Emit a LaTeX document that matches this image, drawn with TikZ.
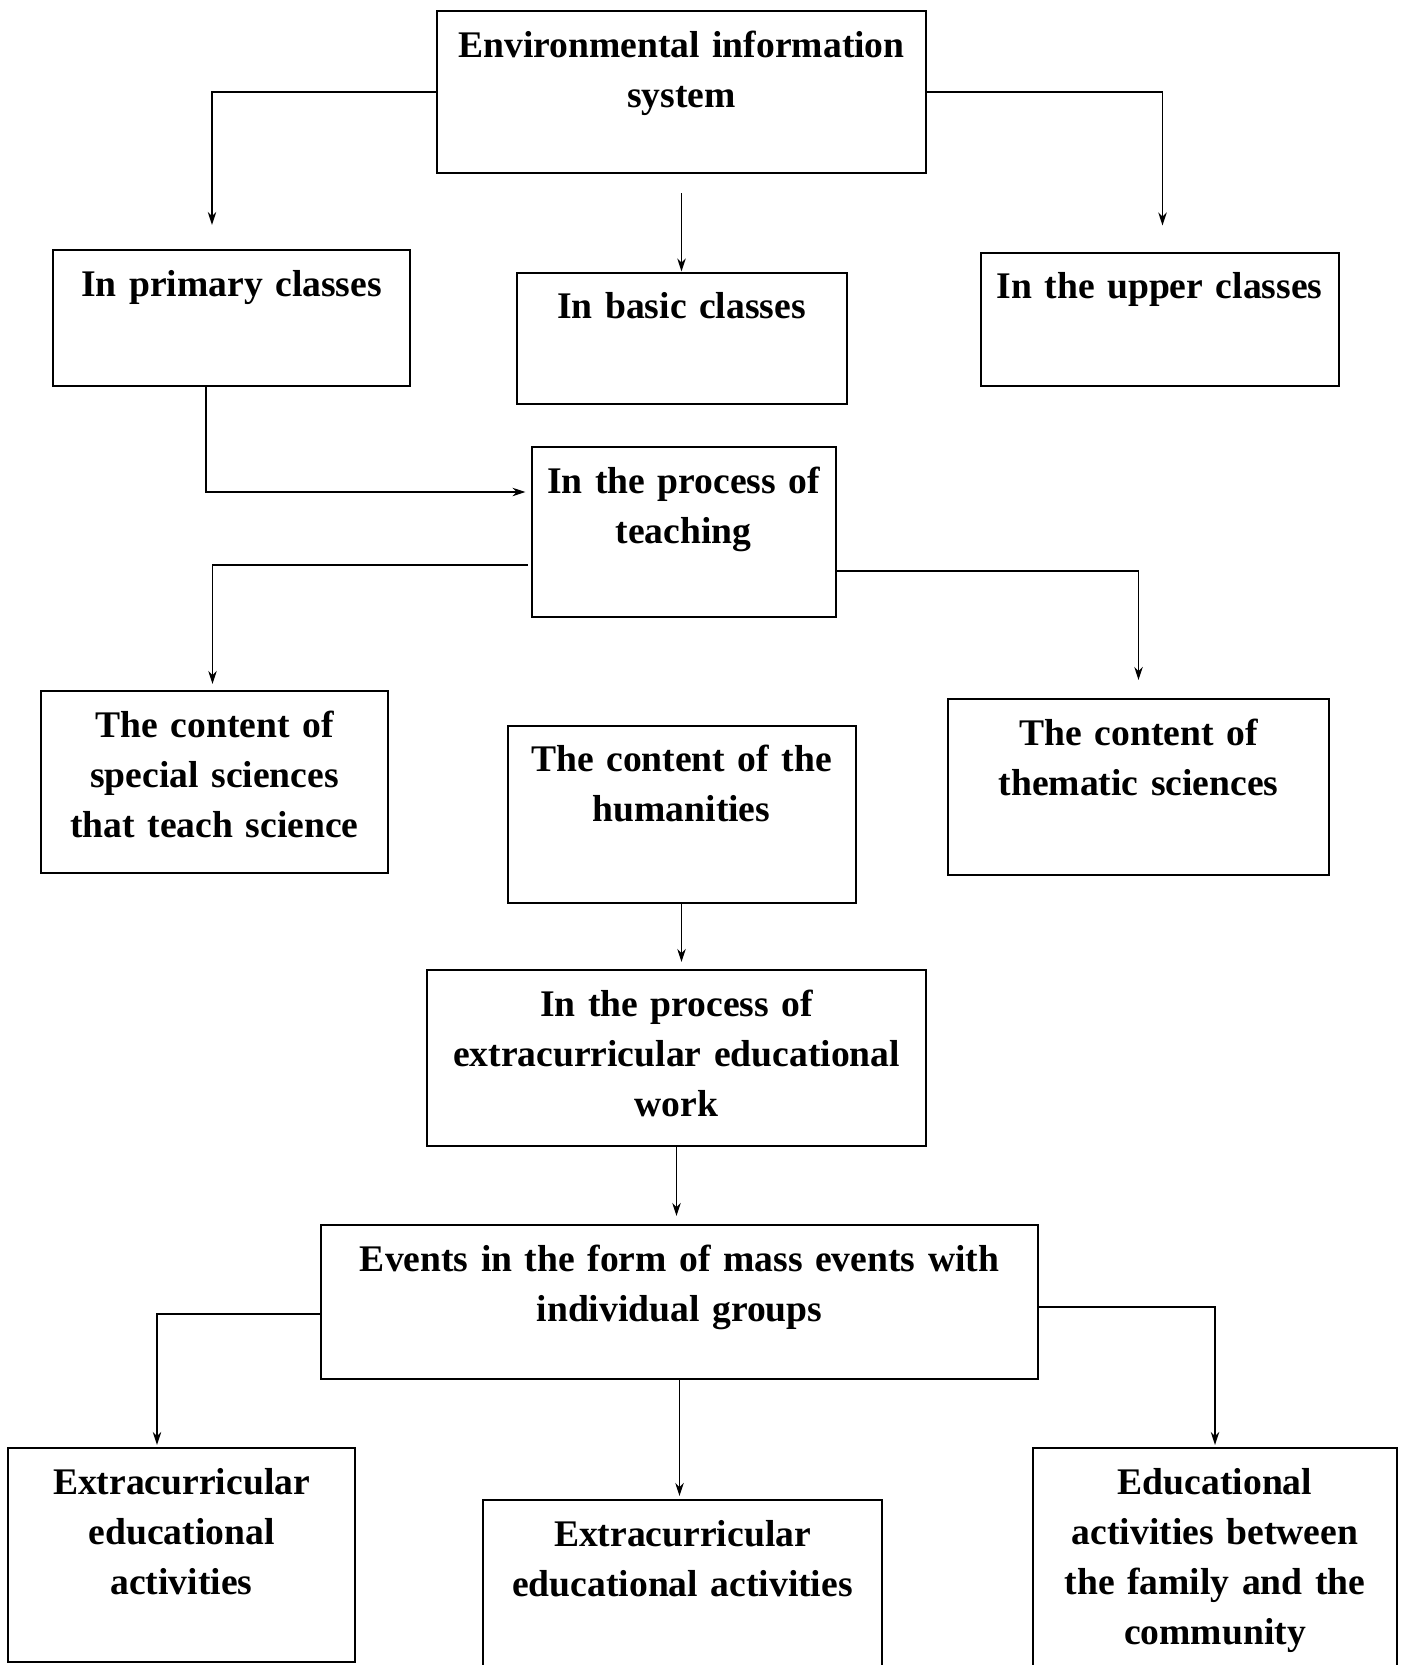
\documentclass[tikz,border=0pt]{standalone}
\usepackage{fontspec}
\setmainfont{Liberation Serif}[WordSpace=0.7]
\usepackage{tikz}
\usetikzlibrary{positioning, calc, arrows.meta}
\tikzstyle{box} = [rectangle, draw=black, line width=1pt, inner sep=0pt, text height=23pt, align=center, font=\fontsize{18.8}{25}\selectfont\bfseries]
\tikzstyle{arrow} = [line width=0.85pt,->,>={Stealth[length=6.5pt,width=4.2pt]}]

\begin{document}
\begin{tikzpicture}[node distance=122pt,]
		\useasboundingbox (0,0) rectangle (701.5pt,-832.5pt);
		\node (start) [box, text width=244.5pt, text depth=58pt] at (340.75pt,-46pt) {Environmental information\\ system};
		\node (cls2) [box, below of=start, yshift=-1pt, text width=165pt, text depth=42.5pt] {In basic classes};
		\node (cls1) [box, left of=cls2, xshift=-103pt, yshift=10pt, text width=178.5pt, text depth=45pt] {In primary classes};
		\node (cls3) [box, right of=cls2, xshift=117pt, yshift=9.5pt, text width=179pt, text depth=43.5pt] {In the upper classes};
		
		\node (teach) [box, below of=cls2, yshift=25pt, xshift=1pt, text width=152pt, text depth=62pt] {In the process of\\ teaching};
		
		\node (sci2) [box, below of=teach, yshift=-19pt, xshift=-1pt, text width=174pt, text depth=65.5pt] {The content of the\\ humanities};
		\node (sci1) [box, left of=sci2, xshift=-111.5pt, yshift=16pt, text width=173.5pt, text depth=68pt] {The content of\\ special sciences\\ that teach science};
		\node (sci3) [box, right of=sci2, xshift=106.5pt, yshift=13.5pt, text width=190.5pt, text depth=65pt] {The content of\\ thematic sciences};
		
		\node (extra) [box, below of=sci2, xshift=-2.5pt, text width=249.5pt, text depth=65pt] {In the process of\\ extracurricular educational\\ work};
		\node (events) [box, below of=extra, xshift=1.5pt, text width=358.5pt, text depth=54pt] {Events in the form of mass events with\\ individual groups};
		
		\node (act2) [box, below of=events, yshift=-19pt, xshift=1.5pt, text width=199.5pt, text depth=61pt] {Extracurricular\\ educational activities};
		\node (act1) [box, left of=act2, xshift=-128.5pt, yshift=14.5pt, text width=173.5pt, text depth=84pt] {Extracurricular\\ educational\\ activities};
		\node (act3) [box, right of=act2, xshift=144.25pt, yshift=13pt, text width=182pt, text depth=87pt] {Educational\\ activities between\\ the family and the\\ community};
		
		%连接具体形状
		\draw [arrow](start.west) -| ($(cls1.north)+(-9.75pt,12pt)$);
		\draw [arrow](start.east) -| ($(cls3.north)+(1.5pt,13pt)$);
		\draw [arrow]($(start.south)+(0,-9.5pt)$) -- (start.south |- cls2.north);
		\draw [arrow]($(cls1.south)+(-12.75pt,0)$) |- ($(teach.west)+(-2.5pt,20pt)$);
		\draw [arrow]($(teach.west)+(-1.5pt,-16.5pt)$) -| ($(sci1.north)+(-1pt,3pt)$);
		\draw [arrow]($(teach.east)+(0,-19.5pt)$) -| ($(sci3.north)+(0,9pt)$);
		\draw [arrow](sci2.south) -- ($(sci2.south |- extra.north)+(0,3.5pt)$);
		\draw [arrow](extra.south) -- ($(extra.south |- events.north)+(0,4pt)$);
		\draw [arrow]($(events.west)+(0,-6pt)$) -| ($(act1.north)+(-12.25pt,1pt)$);
		\draw [arrow]($(events.east)+(0,-2.5pt)$) -| ($(act3.north)+(0,1pt)$);
		\draw [arrow](events.south) -- ($(events.south |- act2.north)+(0,1.5pt)$);
		
	\end{tikzpicture}
\end{document}
